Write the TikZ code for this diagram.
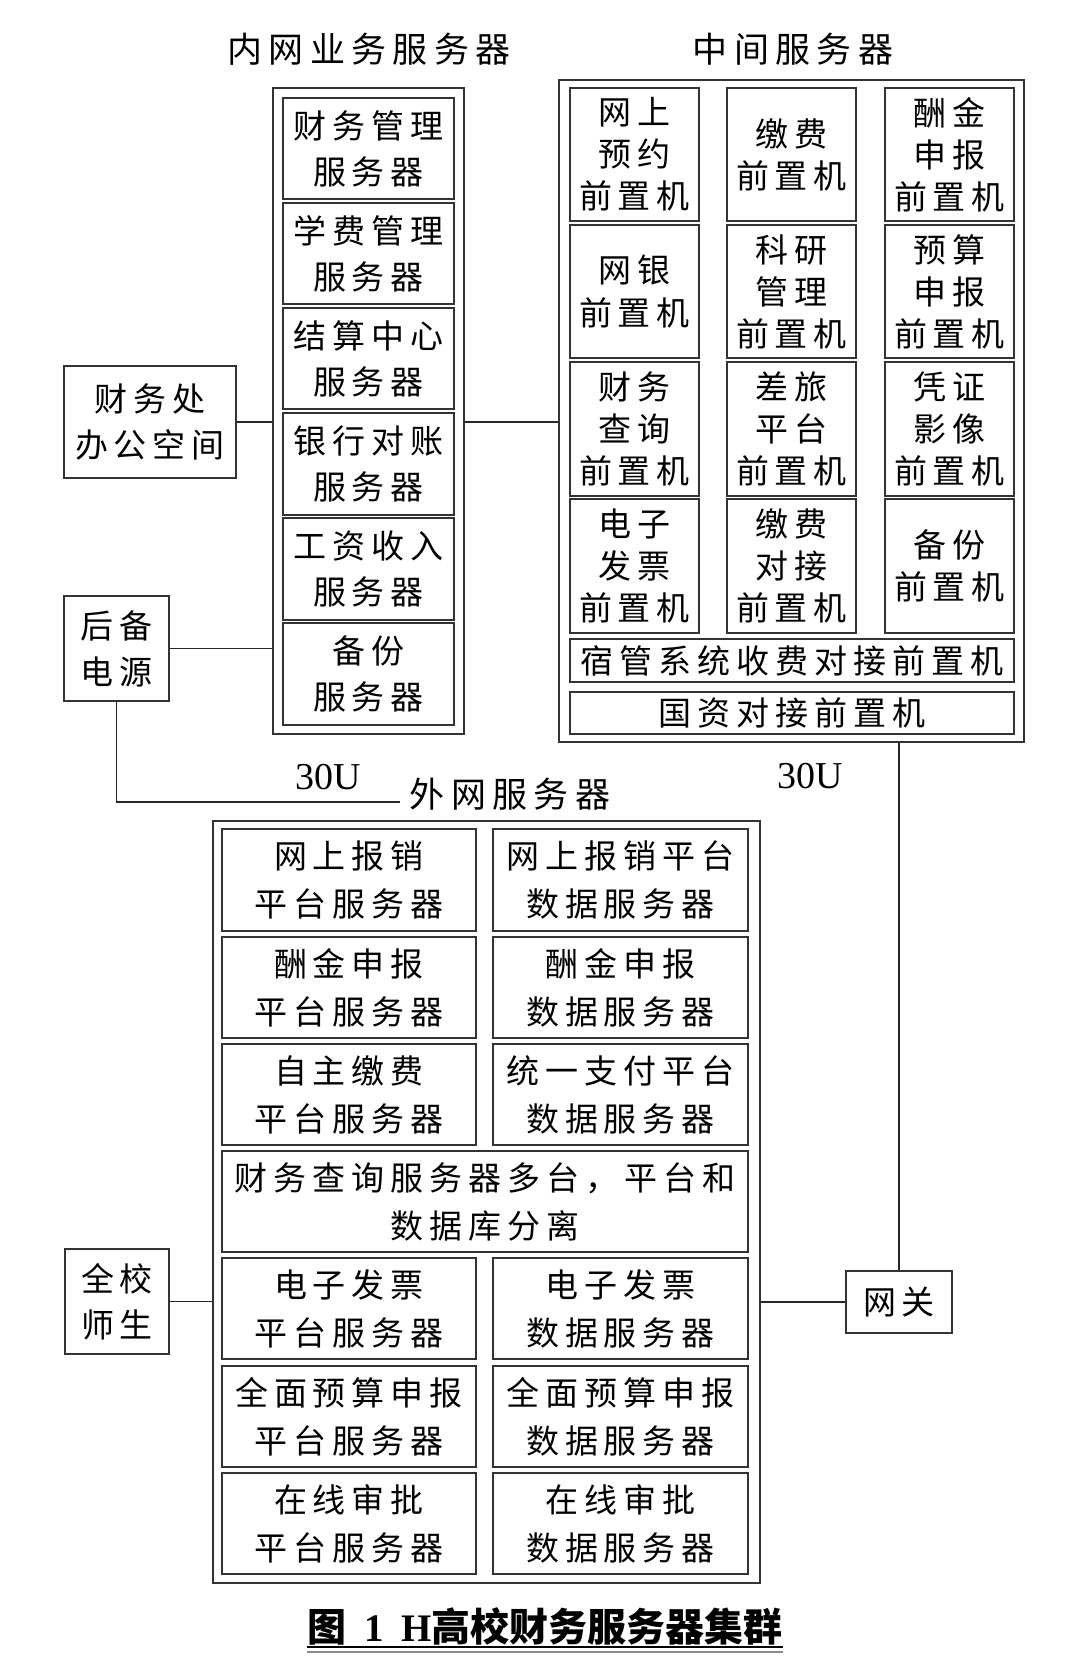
\documentclass[tikz,border=0pt]{standalone}
\usepackage{fontspec}
\setmainfont{Noto Sans CJK SC}
\newfontfamily\cjk{Noto Sans CJK SC}[LetterSpace=18]
\newfontfamily\latin{Liberation Serif}
\newcommand\bx[7][]{%
  \pgfmathsetmacro\bxw{(#5-#3)*0.5}%
  \pgfmathsetmacro\bxh{(#6-#4)*0.5}%
  \node[box, minimum width=\bxw pt, minimum height=\bxh pt, #1] (#2)
    at ({(#3+#5)/2},{(#4+#6)/2}) {#7};}
\begin{document}
\begin{tikzpicture}[x=0.5pt,y=-0.5pt,
  box/.style={draw=black!80, line width=1pt, inner sep=0pt, align=center,
    font=\cjk\fontsize{16.5}{23}\selectfont},
  midt/.style={font=\cjk\fontsize{16.5}{21}\selectfont},
  extt/.style={font=\cjk\fontsize{16.5}{24}\selectfont},
  frame/.style={box},
  conn/.style={draw=black!85, line width=0.8pt},
  title/.style={font=\cjk\fontsize{17.5}{20}\selectfont, inner sep=0pt},
  lab/.style={font=\latin\fontsize{19}{20}\selectfont, inner sep=0pt}]
\useasboundingbox (0,0) rectangle (1090,1667);
% titles
\node[title] (t1) at (369,49) {内网业务服务器};
\node[title] (t2) at (793,49) {中间服务器};
\node[title] (t3) at (510,794) {外网服务器};
\node[lab] (u1) at (328,777) {30U};
\node[lab] (u2) at (810,776) {30U};
% frames
\bx[frame]{inner}{273}{88}{464}{734}{}
\bx[frame]{mid}{559}{80}{1024}{742}{}
\bx[frame]{ext}{213}{821}{760}{1583}{}
% inner column
\bx{i1}{283}{98}{454}{199}{财务管理\\服务器}
\bx{i2}{283}{203}{454}{304}{学费管理\\服务器}
\bx{i3}{283}{308}{454}{409}{结算中心\\服务器}
\bx{i4}{283}{413}{454}{515}{银行对账\\服务器}
\bx{i5}{283}{518}{454}{620}{工资收入\\服务器}
\bx{i6}{283}{623}{454}{725}{备份\\服务器}
% middle grid
\bx[midt]{m11}{570}{88}{699}{221}{网上\\预约\\前置机}
\bx[midt]{m12}{727}{88}{856}{221}{缴费\\前置机}
\bx[midt]{m13}{885}{88}{1014}{221}{酬金\\申报\\前置机}
\bx[midt]{m21}{570}{225}{699}{358}{网银\\前置机}
\bx[midt]{m22}{727}{225}{856}{358}{科研\\管理\\前置机}
\bx[midt]{m23}{885}{225}{1014}{358}{预算\\申报\\前置机}
\bx[midt]{m31}{570}{362}{699}{496}{财务\\查询\\前置机}
\bx[midt]{m32}{727}{362}{856}{496}{差旅\\平台\\前置机}
\bx[midt]{m33}{885}{362}{1014}{496}{凭证\\影像\\前置机}
\bx[midt]{m41}{570}{499}{699}{633}{电子\\发票\\前置机}
\bx[midt]{m42}{727}{499}{856}{633}{缴费\\对接\\前置机}
\bx[midt]{m43}{885}{499}{1014}{633}{备份\\前置机}
\bx[midt]{m5}{570}{639}{1014}{682}{宿管系统收费对接前置机}
\bx[midt]{m6}{570}{692}{1014}{734}{国资对接前置机}
% external
\bx[extt]{e11}{222}{829}{476}{931}{网上报销\\平台服务器}
\bx[extt]{e12}{493}{829}{748}{931}{网上报销平台\\数据服务器}
\bx[extt]{e21}{222}{937}{476}{1038}{酬金申报\\平台服务器}
\bx[extt]{e22}{493}{937}{748}{1038}{酬金申报\\数据服务器}
\bx[extt]{e31}{222}{1044}{476}{1145}{自主缴费\\平台服务器}
\bx[extt]{e32}{493}{1044}{748}{1145}{统一支付平台\\数据服务器}
\bx[extt]{e4}{222}{1151}{748}{1252}{财务查询服务器多台，平台和\\数据库分离}
\bx[extt]{e51}{222}{1258}{476}{1359}{电子发票\\平台服务器}
\bx[extt]{e52}{493}{1258}{748}{1359}{电子发票\\数据服务器}
\bx[extt]{e61}{222}{1366}{476}{1467}{全面预算申报\\平台服务器}
\bx[extt]{e62}{493}{1366}{748}{1467}{全面预算申报\\数据服务器}
\bx[extt]{e71}{222}{1473}{476}{1574}{在线审批\\平台服务器}
\bx[extt]{e72}{493}{1473}{748}{1574}{在线审批\\数据服务器}
% side boxes
\bx{office}{64}{366}{236}{478}{财务处\\办公空间}
\bx{power}{64}{596}{169}{701}{后备\\电源}
\bx{users}{65}{1249}{169}{1354}{全校\\师生}
\bx{gw}{846}{1271}{952}{1333}{网关}
% connectors
\coordinate (pend) at (400,802);
\draw[conn] (office.east) -- (office.east -| inner.west);
\draw[conn] (inner.east |- office.east) -- (mid.west |- office.east);
\draw[conn] (power.east) -- (power.east -| inner.west);
\draw[conn] (power.south) |- (pend);
\draw[conn] (users.east) -- (users.east -| ext.west);
\draw[conn] (ext.east |- gw.west) -- (gw.west);
\draw[conn] (gw.north) -- (gw.north |- mid.south);
% caption
\node[font=\fontsize{19.5}{22}\selectfont\bfseries, inner sep=0pt] (cap) at (545,1626)
  {图\ \ {\latin 1}\ \ {\latin H}高校财务服务器集群};
\draw[line width=0.9pt] (cap.south west |- 0,1647) -- (cap.south east |- 0,1647);
\draw[black!45, line width=0.6pt] (cap.south west |- 0,1652) -- (cap.south east |- 0,1652);
\end{tikzpicture}
\end{document}
